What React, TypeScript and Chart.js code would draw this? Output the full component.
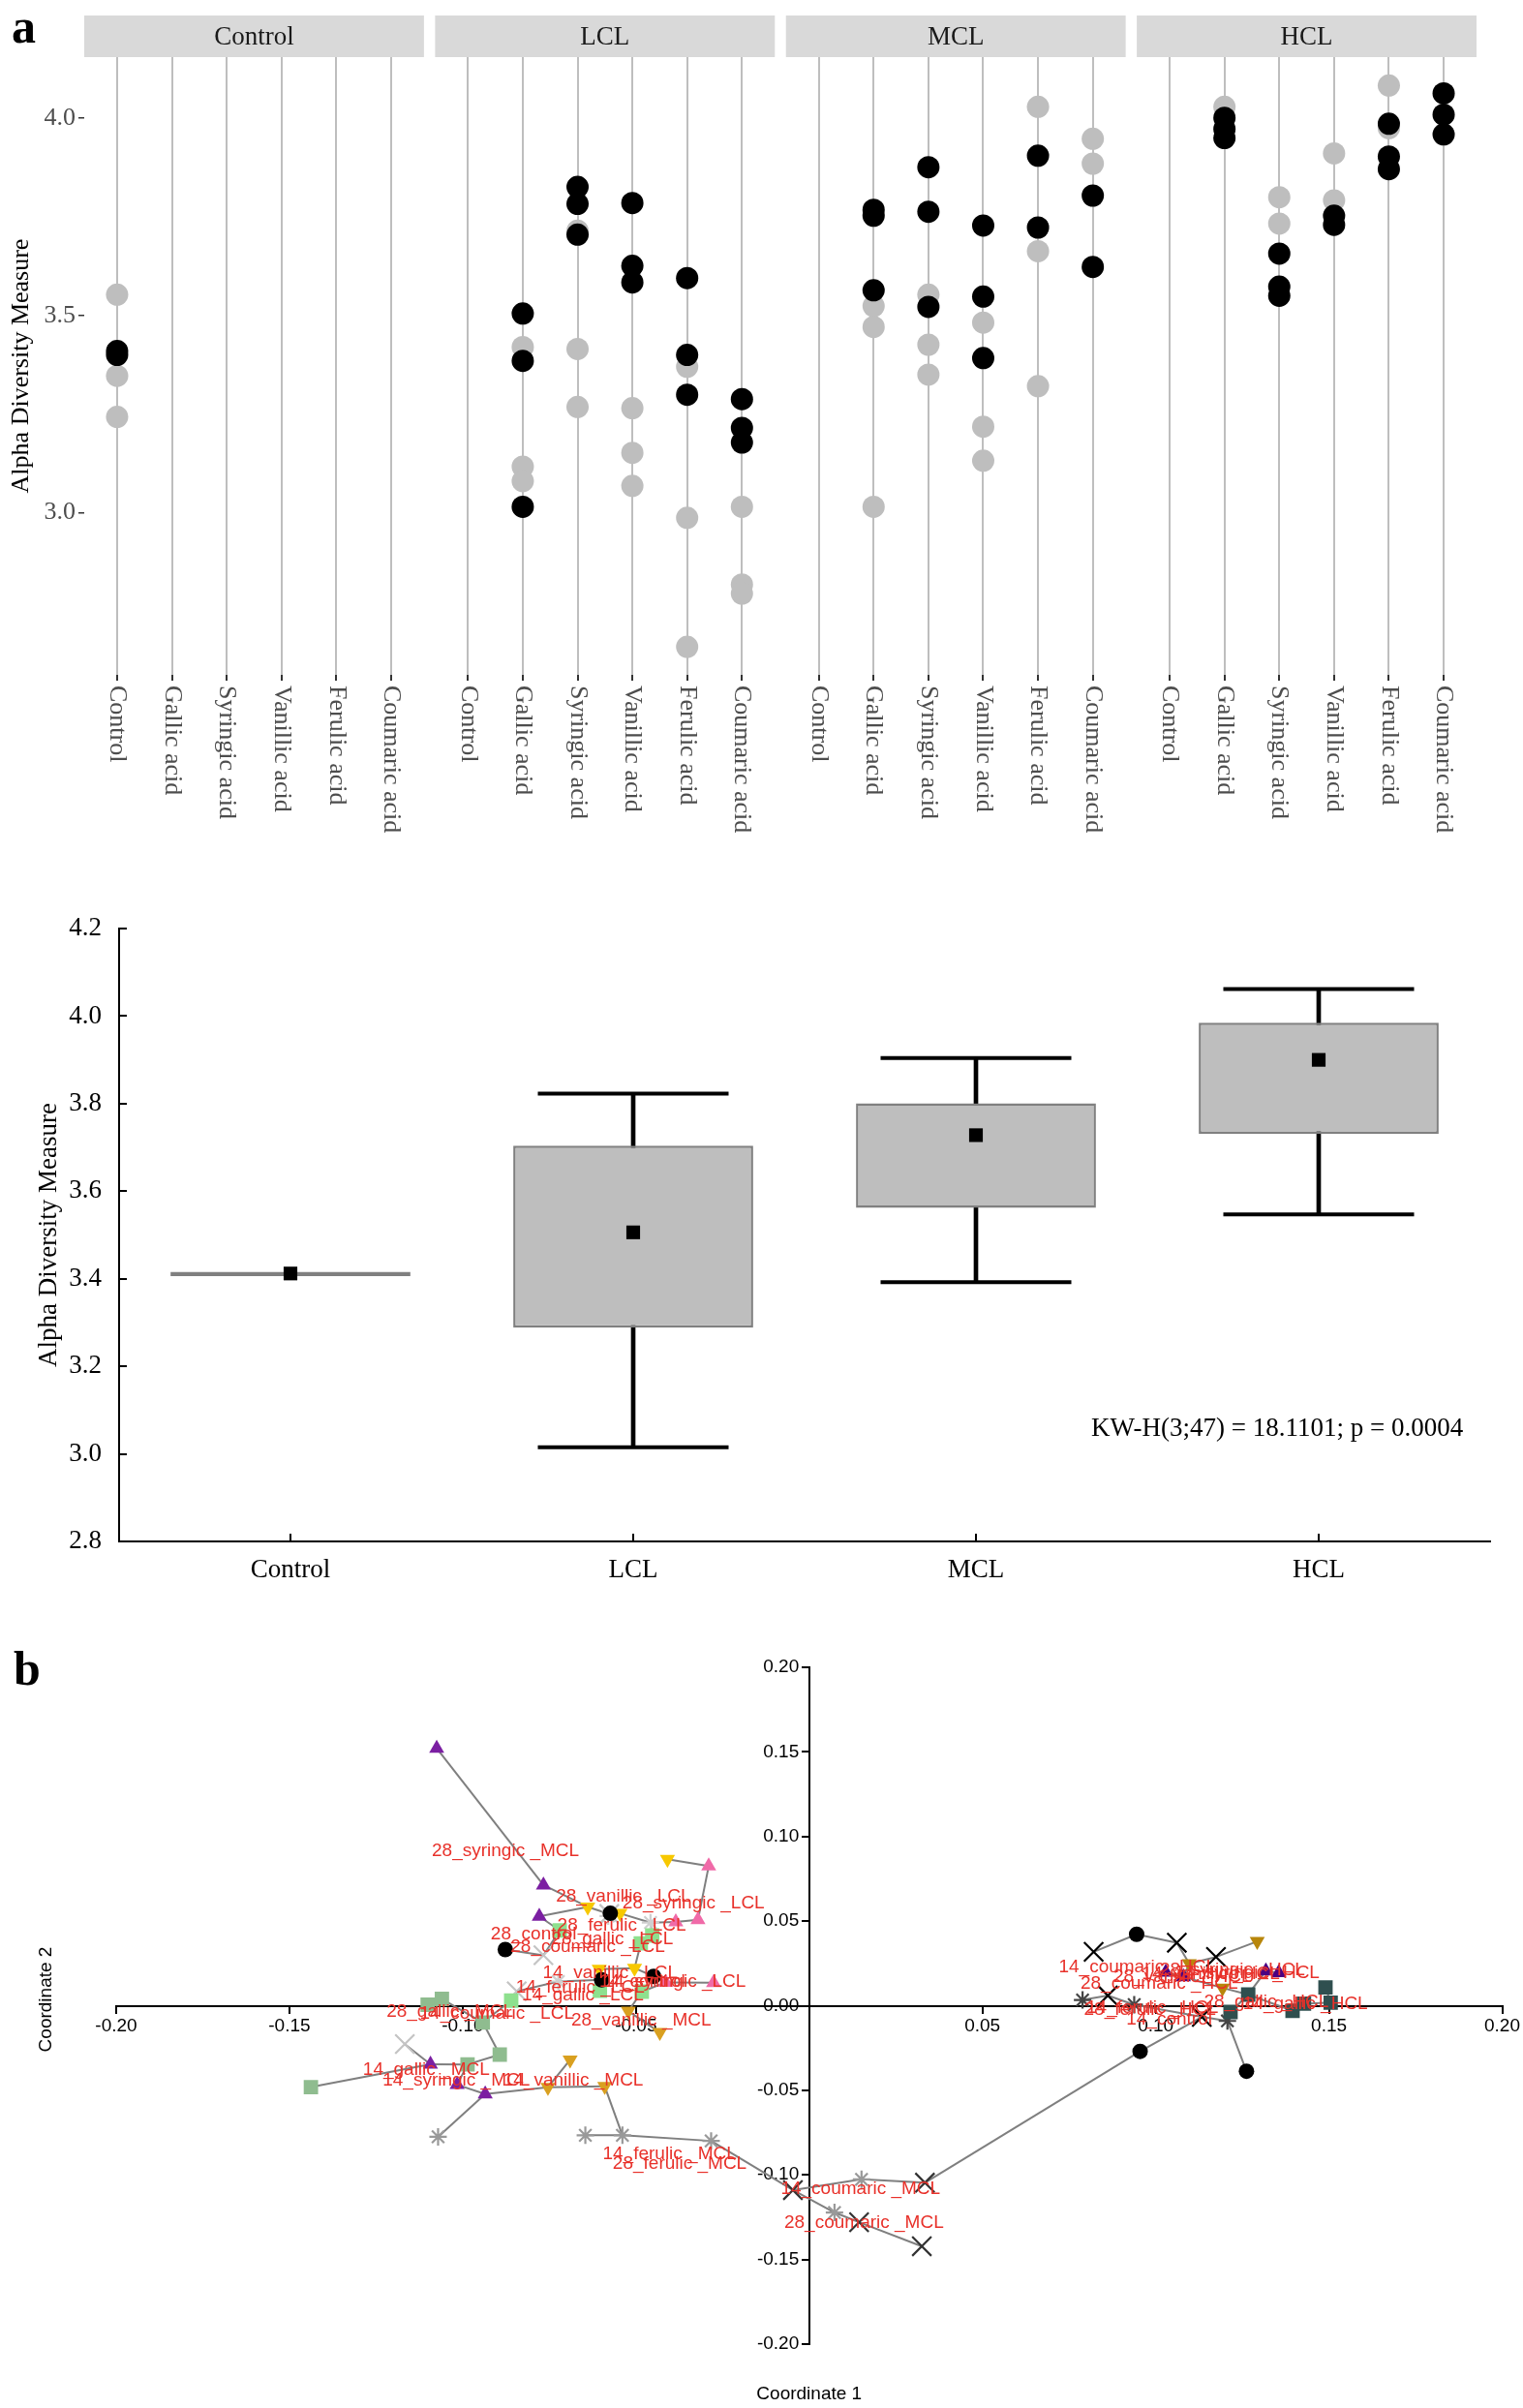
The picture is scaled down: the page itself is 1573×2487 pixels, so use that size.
import React, { useEffect, useRef } from 'react';
import { Chart, registerables } from 'chart.js';

Chart.register(...registerables);

const SERIF = '"Liberation Serif", "Times New Roman", Times, serif';
const SANS = '"Liberation Sans", Arial, Helvetica, sans-serif';

// ---------------- Panel a (top): alpha diversity per acid, faceted by level ----------------
const facetNames = ['Control', 'LCL', 'MCL', 'HCL'];
const acidNames = ['Control', 'Gallic acid', 'Syringic acid', 'Vanillic acid', 'Ferulic acid', 'Coumaric acid'];
const alphaTicks = [3.0, 3.5, 4.0];

const darkControl = [[3.41, 3.4], [], [], [], [], []];
const lightControl = [[3.553, 3.347, 3.243], [], [], [], [], []];
const darkLCL = [[], [3.505, 3.385, 3.015], [3.826, 3.783, 3.705], [3.785, 3.626, 3.584], [3.595, 3.4, 3.299], [3.288, 3.215, 3.178]];
const lightLCL = [[], [3.42, 3.117, 3.08], [3.715, 3.415, 3.268], [3.265, 3.152, 3.068], [3.37, 2.987, 2.66], [3.015, 2.818, 2.795]];
const darkMCL = [[], [3.768, 3.753, 3.564], [3.876, 3.763, 3.522], [3.728, 3.548, 3.392], [3.905, 3.723], [3.804, 3.623]];
const lightMCL = [[], [3.524, 3.471, 3.015], [3.553, 3.426, 3.35], [3.482, 3.218, 3.132], [4.029, 3.663, 3.321], [3.948, 3.885]];
const darkHCL = [[], [4.001, 3.973, 3.95], [3.657, 3.573, 3.55], [3.753, 3.73], [3.986, 3.903, 3.871], [4.063, 4.009, 3.959]];
const lightHCL = [[], [4.029], [3.8, 3.733], [3.911, 3.792], [4.083, 3.975], []];

// ---------------- Panel a (bottom): box plot ----------------
const boxGroups = ['Control', 'LCL', 'MCL', 'HCL'];
const boxLow = [null, 3.015, 3.392, 3.547];
const boxQ1 = [3.406, 3.288, 3.562, 3.731];
const boxQ3 = [3.416, 3.704, 3.801, 3.985];
const boxHigh = [null, 3.823, 3.904, 4.062];
const boxMean = [3.412, 3.506, 3.728, 3.9];
const kwText = 'KW-H(3;47) = 18.1101; p = 0.0004';

// ---------------- Panel b: MDS ordination ----------------
const mdsControl = [[-0.0877, 0.0332], [-0.0574, 0.0546], [-0.0599, 0.0153], [-0.0449, 0.0173], [0.0945, 0.0422], [0.0955, -0.027], [0.1262, -0.0387]];
const mdsGallicLCL = [[-0.072, 0.0445], [-0.0486, 0.0368], [-0.0453, 0.0415], [-0.086, 0.003], [-0.0604, 0.0088], [-0.0483, 0.0083]];
const mdsGallicMCL = [[-0.1438, -0.0481], [-0.1101, 0.0006], [-0.106, 0.004], [-0.0942, -0.0099], [-0.0893, -0.0289], [-0.0986, -0.0347]];
const mdsGallicHCL = [[0.149, 0.0108], [0.1267, 0.0066], [0.1216, -0.0037], [0.1395, -0.003], [0.1428, 0.0012], [0.1505, 0.0018]];
const mdsSyringicLCL = [[-0.029, 0.0825], [-0.0321, 0.0508], [-0.0385, 0.0495], [-0.0276, 0.0136], [-0.0414, 0.0138]];
const mdsSyringicMCL = [[-0.1075, 0.1521], [-0.0767, 0.0713], [-0.0779, 0.0528], [-0.1093, -0.0346], [-0.1016, -0.0467], [-0.0935, -0.0522]];
const mdsSyringicHCL = [[0.1029, 0.0197], [0.108, 0.017], [0.1318, 0.0205], [0.1355, 0.0195]];
const mdsVanillicLCL = [[-0.0409, 0.0866], [-0.0639, 0.0584], [-0.0546, 0.0546], [-0.0606, 0.0216], [-0.0504, 0.0222]];
const mdsVanillicMCL = [[-0.0522, -0.0032], [-0.0431, -0.0158], [-0.069, -0.032], [-0.0754, -0.0482], [-0.059, -0.0477]];
const mdsVanillicHCL = [[0.1293, 0.038], [0.1097, 0.0249], [0.1193, 0.0105]];
const mdsCoumaricLCL = [[-0.1167, -0.0227], [-0.0767, 0.0298], [-0.0844, 0.0085], [-0.0577, 0.0542]];
const mdsCoumaricMCL = [[-0.0047, -0.109], [0.0334, -0.1046], [0.0144, -0.128], [0.0325, -0.1422]];
const mdsCoumaricHCL = [[0.0821, 0.0318], [0.1061, 0.0372], [0.1174, 0.0288], [0.0862, 0.006], [0.1133, -0.0066]];
const mdsFerulicLCL = [[-0.0458, 0.0491], [-0.0724, 0.0143], [-0.058, 0.053]];
const mdsFerulicMCL = [[-0.1071, -0.0775], [-0.0646, -0.0766], [-0.0539, -0.0766], [-0.0283, -0.0799], [0.0073, -0.1222], [0.0151, -0.1026]];
const mdsFerulicHCL = [[0.0789, 0.0034], [0.0938, 0.0006], [0.1207, -0.009]];

const mdsLabelText = [
  '28_syringic _MCL', '28_vanillic _LCL', '28_syringic _LCL', '28_ferulic _LCL', '28_control', '28_gallic _LCL',
  '28_coumaric _LCL', '14_vanillic _LCL', '14_control', '14_syringic _LCL', '14_ferulic _LCL', '14_gallic _LCL',
  '28_gallic _MCL', '14_coumaric _LCL', '28_vanillic _MCL', '14_gallic _MCL', '14_syringic _MCL', '14_vanillic _MCL',
  '14_ferulic _MCL', '28_ferulic _MCL', '14_coumaric _MCL', '28_coumaric _MCL',
  '14_coumaric _HCL', '28_coumaric _HCL', '28_vanillic _HCL', '14_vanillic _HCL', '28_syringic _HCL', '14_syringic _HCL',
  '28_ferulic _HCL', '14_ferulic _HCL', '14_control', '28_gallic _HCL', '14_gallic _HCL',
];
const mdsLabelX = [
  -0.1089, -0.0731, -0.0539, -0.0727, -0.0919, -0.0744,
  -0.0862, -0.0769, -0.0606, -0.0593, -0.0847, -0.0829,
  -0.122, -0.1124, -0.0687, -0.1288, -0.1231, -0.0883,
  -0.0596, -0.0567, -0.0082, -0.0072,
  0.072, 0.0783, 0.0878, 0.096, 0.1012, 0.1054,
  0.0793, 0.08, 0.0915, 0.1139, 0.1252,
];
const mdsLabelY = [
  0.0916, 0.0643, 0.0605, 0.0473, 0.0423, 0.0393,
  0.0349, 0.0194, 0.0144, 0.0144, 0.0106, 0.0062,
  -0.0035, -0.005, -0.0085, -0.0379, -0.0443, -0.0443,
  -0.0878, -0.0934, -0.1081, -0.1281,
  0.0226, 0.0129, 0.0173, 0.0185, 0.0212, 0.0195,
  -0.0024, -0.0012, -0.0082, 0.0021, 0.0012,
];

// marker styling table (not data)
const mdsGroups = [
  { pts: mdsControl, style: 'circle', color: '#000000', r: 8, rot: 0, stroke: false },
  { pts: mdsGallicLCL, style: 'rect', color: '#8ee08e', r: 10.5, rot: 0, stroke: false },
  { pts: mdsGallicMCL, style: 'rect', color: '#8fbc8f', r: 10.5, rot: 0, stroke: false },
  { pts: mdsGallicHCL, style: 'rect', color: '#2f4f4f', r: 10.5, rot: 0, stroke: false },
  { pts: mdsSyringicLCL, style: 'triangle', color: '#f06aa8', r: 9, rot: 0, stroke: false },
  { pts: mdsSyringicMCL, style: 'triangle', color: '#7b1fa2', r: 9, rot: 0, stroke: false },
  { pts: mdsSyringicHCL, style: 'triangle', color: '#4b0082', r: 9, rot: 0, stroke: false },
  { pts: mdsVanillicLCL, style: 'triangle', color: '#f7c800', r: 9, rot: 180, stroke: false },
  { pts: mdsVanillicMCL, style: 'triangle', color: '#d9a020', r: 9, rot: 180, stroke: false },
  { pts: mdsVanillicHCL, style: 'triangle', color: '#b8860b', r: 9, rot: 180, stroke: false },
  { pts: mdsCoumaricLCL, style: 'crossRot', color: '#c4c4c4', r: 14, rot: 0, stroke: true },
  { pts: mdsCoumaricMCL, style: 'crossRot', color: '#333333', r: 14, rot: 0, stroke: true },
  { pts: mdsCoumaricHCL, style: 'crossRot', color: '#000000', r: 14, rot: 0, stroke: true },
  { pts: mdsFerulicLCL, style: 'star', color: '#cfcfcf', r: 9, rot: 0, stroke: true },
  { pts: mdsFerulicMCL, style: 'star', color: '#999999', r: 9, rot: 0, stroke: true },
  { pts: mdsFerulicHCL, style: 'star', color: '#444444', r: 9, rot: 0, stroke: true },
];

// ---------------- helpers ----------------
const FACET_W = 6.2;
const FACET_GAP = 0.203;
const facetOffset = (f: number) => f * (FACET_W + FACET_GAP);

function facetPoints(sets: number[][][]) {
  const pts: { x: number; y: number }[] = [];
  sets.forEach((facet, f) =>
    facet.forEach((vals, i) => vals.forEach((v) => pts.push({ x: facetOffset(f) + i, y: v })))
  );
  return pts;
}

function mstEdges(p: number[][]) {
  const n = p.length;
  const inTree = new Array(n).fill(false);
  const best = new Array(n).fill(Infinity);
  const parent = new Array(n).fill(-1);
  best[0] = 0;
  const edges: [number, number][] = [];
  for (let k = 0; k < n; k++) {
    let u = -1;
    for (let i = 0; i < n; i++) if (!inTree[i] && (u < 0 || best[i] < best[u])) u = i;
    inTree[u] = true;
    if (parent[u] >= 0) edges.push([parent[u], u]);
    for (let v = 0; v < n; v++) {
      if (inTree[v]) continue;
      const d = Math.hypot(p[u][0] - p[v][0], p[u][1] - p[v][1]);
      if (d < best[v]) { best[v] = d; parent[v] = u; }
    }
  }
  return edges;
}

const commonOpts = {
  responsive: false,
  animation: false as const,
  devicePixelRatio: 1,
  events: [] as any[],
  plugins: { legend: { display: false }, tooltip: { enabled: false } },
};

// ---------------- chart builders ----------------
function makeFacetChart(canvas: HTMLCanvasElement) {
  const decor = {
    id: 'facetDecor',
    beforeDatasetsDraw(chart: any) {
      const { ctx, chartArea: a, scales } = chart;
      const x = scales.x;
      ctx.save();
      ctx.lineWidth = 2;
      facetNames.forEach((_, f) =>
        acidNames.forEach((_, i) => {
          const px = Math.round(x.getPixelForValue(facetOffset(f) + i));
          ctx.strokeStyle = '#bebebe';
          ctx.beginPath(); ctx.moveTo(px, a.top); ctx.lineTo(px, a.bottom); ctx.stroke();
          ctx.strokeStyle = '#333333';
          ctx.beginPath(); ctx.moveTo(px, a.bottom); ctx.lineTo(px, a.bottom + 6); ctx.stroke();
        })
      );
      ctx.restore();
    },
    afterDraw(chart: any) {
      const { ctx, chartArea: a, scales } = chart;
      const x = scales.x;
      ctx.save();
      facetNames.forEach((name, f) => {
        const x0 = x.getPixelForValue(facetOffset(f) - 0.6);
        const x1 = x.getPixelForValue(facetOffset(f) + 5.6);
        ctx.fillStyle = '#d9d9d9';
        ctx.fillRect(x0, 16, x1 - x0, a.top - 16);
        ctx.fillStyle = '#1a1a1a';
        ctx.font = `27px ${SERIF}`;
        ctx.textAlign = 'center';
        ctx.textBaseline = 'middle';
        ctx.fillText(name, (x0 + x1) / 2, (16 + a.top) / 2 + 1);
        acidNames.forEach((acid, i) => {
          const px = x.getPixelForValue(facetOffset(f) + i);
          ctx.save();
          ctx.translate(px, a.bottom + 11);
          ctx.rotate(Math.PI / 2);
          ctx.fillStyle = '#4d4d4d';
          ctx.font = `26px ${SERIF}`;
          ctx.textAlign = 'left';
          ctx.textBaseline = 'middle';
          ctx.fillText(acid, 0, 0);
          ctx.restore();
        });
      });
      ctx.fillStyle = '#000';
      ctx.font = `bold 50px ${SERIF}`;
      ctx.textAlign = 'left';
      ctx.textBaseline = 'alphabetic';
      ctx.fillText('a', 12, 44);
      ctx.restore();
    },
  };

  return new Chart(canvas, {
    type: 'scatter',
    data: {
      datasets: [
        { data: facetPoints([darkControl, darkLCL, darkMCL, darkHCL]), pointRadius: 11.5, pointBackgroundColor: '#000000', pointBorderWidth: 0, order: 1 },
        { data: facetPoints([lightControl, lightLCL, lightMCL, lightHCL]), pointRadius: 11.5, pointBackgroundColor: '#bebebe', pointBorderWidth: 0, order: 2 },
      ],
    },
    options: {
      ...commonOpts,
      layout: { autoPadding: false, padding: { left: 0, top: 59, right: 48, bottom: 183 } },
      scales: {
        x: { type: 'linear', min: -0.6, max: facetOffset(3) + 5.6, display: false },
        y: {
          type: 'linear',
          min: 2.589,
          max: 4.155,
          afterFit: (s: any) => { s.width = 87; },
          afterBuildTicks: (s: any) => { s.ticks = alphaTicks.map((v) => ({ value: v })); },
          border: { display: false },
          grid: { drawOnChartArea: false, drawTicks: true, tickLength: 6, color: '#333333', lineWidth: 1.5 },
          ticks: { color: '#4d4d4d', font: { family: SERIF, size: 26 }, padding: 3, callback: (v: any) => Number(v).toFixed(1) },
          title: { display: true, text: 'Alpha Diversity Measure', color: '#000', font: { family: SERIF, size: 26 }, padding: { top: 7, bottom: 0 } },
        },
      },
    } as any,
    plugins: [decor],
  } as any);
}

function makeBoxChart(canvas: HTMLCanvasElement) {
  const decor = {
    id: 'boxDecor',
    afterDraw(chart: any) {
      const { ctx, chartArea: a, scales } = chart;
      const { x, y } = scales;
      ctx.save();
      ctx.strokeStyle = '#000';
      ctx.lineWidth = 2;
      y.ticks.forEach((t: any) => {
        const py = Math.round(y.getPixelForValue(t.value));
        ctx.beginPath(); ctx.moveTo(a.left, py); ctx.lineTo(a.left + 8, py); ctx.stroke();
      });
      boxGroups.forEach((_, i) => {
        const px = Math.round(x.getPixelForValue(i));
        ctx.beginPath(); ctx.moveTo(px, a.bottom); ctx.lineTo(px, a.bottom - 8); ctx.stroke();
      });
      ctx.fillStyle = '#000';
      ctx.font = `27px ${SERIF}`;
      ctx.textAlign = 'left';
      ctx.textBaseline = 'middle';
      ctx.fillText(kwText, 1127, 576);
      ctx.restore();
    },
  };

  return new Chart(canvas, {
    type: 'bar',
    data: {
      labels: boxGroups,
      datasets: [
        {
          type: 'bar',
          data: boxLow.map((lo, i) => (lo == null ? null : [lo, boxHigh[i]])),
          backgroundColor: '#000000',
          barThickness: 4,
          grouped: false,
          order: 4,
        },
        {
          type: 'bar',
          data: boxQ1.map((q, i) => [q, boxQ3[i]]),
          backgroundColor: '#bebebe',
          borderColor: '#808080',
          borderWidth: 2.5,
          borderSkipped: false,
          barPercentage: 0.7,
          categoryPercentage: 1,
          grouped: false,
          order: 3,
        },
        {
          type: 'line',
          data: boxHigh,
          showLine: false,
          pointStyle: 'line',
          pointRadius: 98.5,
          pointBorderColor: '#000',
          pointBorderWidth: 4,
          order: 2,
        },
        {
          type: 'line',
          data: boxLow,
          showLine: false,
          pointStyle: 'line',
          pointRadius: 98.5,
          pointBorderColor: '#000',
          pointBorderWidth: 4,
          order: 2,
        },
        {
          type: 'line',
          data: boxMean,
          showLine: false,
          pointStyle: 'rect',
          pointRadius: 10,
          pointBackgroundColor: '#000',
          pointBorderWidth: 0,
          order: 1,
        },
      ],
    },
    options: {
      ...commonOpts,
      layout: { autoPadding: false, padding: { left: 0, top: 59, right: 34, bottom: 0 } },
      scales: {
        x: {
          type: 'category',
          offset: true,
          afterFit: (s: any) => { s.height = 68; },
          grid: { display: false },
          border: { display: true, color: '#000', width: 2 },
          ticks: { color: '#000', font: { family: SERIF, size: 27 }, padding: 6 },
        },
        y: {
          type: 'linear',
          min: 2.8,
          max: 4.2,
          afterFit: (s: any) => { s.width = 123; },
          grid: { display: false },
          border: { display: true, color: '#000', width: 2 },
          ticks: { stepSize: 0.2, color: '#000', font: { family: SERIF, size: 27 }, padding: 10, callback: (v: any) => Number(v).toFixed(1) },
          title: { display: true, text: 'Alpha Diversity Measure', color: '#000', font: { family: SERIF, size: 27 }, padding: { top: 35, bottom: 0 } },
        },
      },
    } as any,
    plugins: [decor],
  } as any);
}

function makeMdsChart(canvas: HTMLCanvasElement) {
  const allPts = mdsGroups.flatMap((g) => g.pts);
  const edges = mstEdges(allPts);

  const edgeSets = edges.map(([a, b]) => ({
    type: 'scatter',
    data: [
      { x: allPts[a][0], y: allPts[a][1] },
      { x: allPts[b][0], y: allPts[b][1] },
    ],
    showLine: true,
    borderColor: '#7f7f7f',
    borderWidth: 2,
    pointRadius: 0,
    order: 10,
  }));

  const markerSets = mdsGroups.map((g) => ({
    type: 'scatter',
    data: g.pts.map(([x, y]) => ({ x, y })),
    pointStyle: g.style,
    pointRadius: g.r,
    pointRotation: g.rot,
    pointBackgroundColor: g.color,
    pointBorderColor: g.color,
    pointBorderWidth: g.stroke ? 2.2 : 0,
    showLine: false,
    order: 1,
  }));

  const decor = {
    id: 'mdsDecor',
    afterDatasetsDraw(chart: any) {
      const { ctx, scales } = chart;
      const { x, y } = scales;
      ctx.save();
      ctx.fillStyle = '#e8312a';
      ctx.font = `19px ${SANS}`;
      ctx.textAlign = 'left';
      ctx.textBaseline = 'middle';
      mdsLabelText.forEach((t, i) => {
        ctx.fillText(t, x.getPixelForValue(mdsLabelX[i]), y.getPixelForValue(mdsLabelY[i]));
      });
      ctx.restore();
    },
    afterDraw(chart: any) {
      const { ctx, scales } = chart;
      const x = scales.x;
      ctx.save();
      ctx.fillStyle = '#000';
      ctx.font = `19px ${SANS}`;
      ctx.textAlign = 'center';
      ctx.textBaseline = 'middle';
      ctx.fillText('Coordinate 1', x.getPixelForValue(0), 793);
      ctx.save();
      ctx.translate(48, 385);
      ctx.rotate(-Math.PI / 2);
      ctx.fillText('Coordinate 2', 0, 0);
      ctx.restore();
      ctx.font = `bold 50px ${SERIF}`;
      ctx.textAlign = 'left';
      ctx.textBaseline = 'alphabetic';
      ctx.fillText('b', 14, 60);
      ctx.restore();
    },
  };

  const fmt = (v: any) => (Math.abs(v) < 1e-9 ? '0.00' : Number(v).toFixed(2));

  return new Chart(canvas, {
    type: 'scatter',
    data: { datasets: [...edgeSets, ...markerSets] as any },
    options: {
      ...commonOpts,
      layout: { autoPadding: false, padding: { left: 120, right: 20, top: 42, bottom: 66 } },
      scales: {
        x: {
          type: 'linear',
          min: -0.2,
          max: 0.2,
          position: { y: 0 },
          grid: { drawOnChartArea: false, drawTicks: true, tickLength: 7, color: '#000', lineWidth: 2 },
          border: { display: true, color: '#000', width: 2 },
          ticks: {
            stepSize: 0.05,
            autoSkip: false,
            maxRotation: 0,
            color: '#000',
            font: { family: SANS, size: 19 },
            padding: 3,
            callback: (v: any) => (Math.abs(v) < 1e-9 ? '' : fmt(v)),
          },
        },
        y: {
          type: 'linear',
          min: -0.2,
          max: 0.2,
          position: { x: 0 },
          grid: { drawOnChartArea: false, drawTicks: true, tickLength: 7, color: '#000', lineWidth: 2 },
          border: { display: true, color: '#000', width: 2 },
          // labels of a centred y axis are right-aligned at the axis itself; trailing spaces
          // leave room for the tick marks, as in the reference
          ticks: { stepSize: 0.05, autoSkip: false, color: '#000', font: { family: SANS, size: 19 }, padding: 5, callback: (v: any) => fmt(v) + '  ' },
        },
      },
    } as any,
    plugins: [decor],
  } as any);
}

export default function App() {
  const aRef = useRef<HTMLCanvasElement>(null);
  const bRef = useRef<HTMLCanvasElement>(null);
  const cRef = useRef<HTMLCanvasElement>(null);

  useEffect(() => {
    const charts: Chart[] = [];
    if (aRef.current) charts.push(makeFacetChart(aRef.current));
    if (bRef.current) charts.push(makeBoxChart(bRef.current));
    if (cRef.current) charts.push(makeMdsChart(cRef.current));
    return () => charts.forEach((c) => c.destroy());
  }, []);

  const cs = (top: number, h: number): React.CSSProperties => ({
    position: 'absolute', left: 0, top, width: 1573, height: h, display: 'block',
  });

  return (
    <div style={{ position: 'absolute', left: 0, top: 0, width: 1573, height: 2487, background: '#ffffff', overflow: 'hidden' }}>
      <canvas ref={aRef} width={1573} height={880} style={cs(0, 880)} />
      <canvas ref={bRef} width={1573} height={760} style={cs(900, 760)} />
      <canvas ref={cRef} width={1573} height={807} style={cs(1680, 807)} />
    </div>
  );
}
